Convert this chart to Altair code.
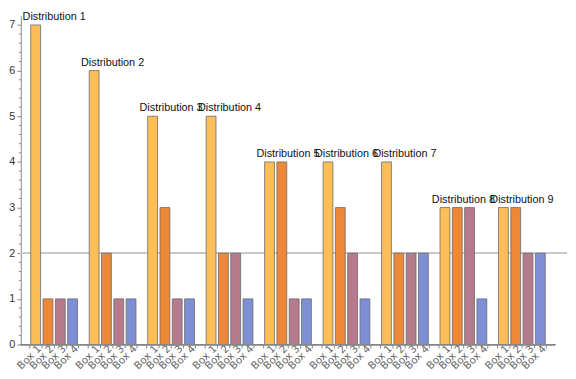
import altair as alt
import pandas as pd

distributions = [f"Distribution {i}" for i in range(1, 10)]
boxes = ["Box 1", "Box 2", "Box 3", "Box 4"]
values = [
    [7, 1, 1, 1],
    [6, 2, 1, 1],
    [5, 3, 1, 1],
    [5, 2, 2, 1],
    [4, 4, 1, 1],
    [4, 3, 2, 1],
    [4, 2, 2, 2],
    [3, 3, 3, 1],
    [3, 3, 2, 2],
]
colors = ["#FDBE57", "#EE8836", "#B57A8C", "#7F8FD6"]
y_ticks = [0, 1, 2, 3, 4, 5, 6, 7]
minor_ticks = [i / 5 for i in range(36) if i % 5]

W, H = 543, 334
FONT = "Liberation Sans"

rows = [
    {"dist": d, "box": b, "value": v}
    for d, vs in zip(distributions, values)
    for b, v in zip(boxes, vs)
]
df = pd.DataFrame(rows)
lab_df = pd.DataFrame({"dist": distributions, "top": [max(v) for v in values]})
minor_df = pd.DataFrame({"t": minor_ticks})

x_enc = alt.X("dist:N", sort=distributions,
              scale=alt.Scale(paddingInner=0.2, paddingOuter=0.17), axis=None)
xo_enc = alt.XOffset("box:N", sort=boxes,
                     scale=alt.Scale(paddingInner=0.2, paddingOuter=0))
y_scale = alt.Scale(domain=[0, 7.2], nice=False, zero=True)

grid = alt.Chart(df).mark_rule(color="#c8c8c8", strokeWidth=1).encode(
    y=alt.datum(2, scale=y_scale), x=alt.value(0), x2=alt.value(W + 12)
)

bars = alt.Chart(df).mark_bar(stroke="#6a6a6a", strokeWidth=1, strokeOpacity=0.8).encode(
    x=x_enc,
    xOffset=xo_enc,
    y=alt.Y("value:Q", scale=y_scale,
            axis=alt.Axis(values=y_ticks, title=None, grid=False, tickSize=4,
                          tickColor="#888", domainColor="#888", labelColor="#333",
                          labelFontSize=11, labelFont=FONT, labelPadding=2)),
    color=alt.Color("box:N", scale=alt.Scale(domain=boxes, range=colors), legend=None),
)

minor = alt.Chart(minor_df).mark_rule(color="#888").encode(
    y=alt.Y("t:Q", scale=y_scale), x=alt.value(-2), x2=alt.value(0)
)

xaxis = alt.Chart(df).mark_rule(color="#888").encode(
    y=alt.value(H), x=alt.value(0), x2=alt.value(W)
)

left_edge = "scale('x', datum.dist) + scale('xOffset', datum.box)"
ticks_left = alt.Chart(df).mark_rule(color="#888").encode(
    x=alt.value(alt.ExprRef(expr=left_edge + " - 1")),
    y=alt.value(H), y2=alt.value(H + 4),
)
ticks_right = alt.Chart(df).transform_filter(alt.datum.box == "Box 4").mark_rule(color="#888").encode(
    x=alt.value(alt.ExprRef(expr=left_edge + " + bandwidth('xOffset') + 1")),
    y=alt.value(H), y2=alt.value(H + 4),
)

box_labels = alt.Chart(df).mark_text(
    angle=315, align="right", baseline="middle", dx=6, fontSize=10.5,
    font="DejaVu Sans", color="#666"
).encode(x=x_enc, xOffset=xo_enc, y=alt.value(H + 7), text="box:N")

dist_labels = alt.Chart(lab_df).mark_text(
    baseline="bottom", dy=-3, fontSize=11, font=FONT, color="#111"
).encode(x=x_enc, y=alt.Y("top:Q", scale=y_scale), text="dist:N")

chart = alt.layer(grid, bars, minor, xaxis, ticks_left, ticks_right,
                  box_labels, dist_labels).properties(
    width=W, height=H, padding=0
).configure_view(strokeWidth=0, stroke="transparent")

chart.save("out.html", embed_options={"renderer": "svg", "actions": False})
